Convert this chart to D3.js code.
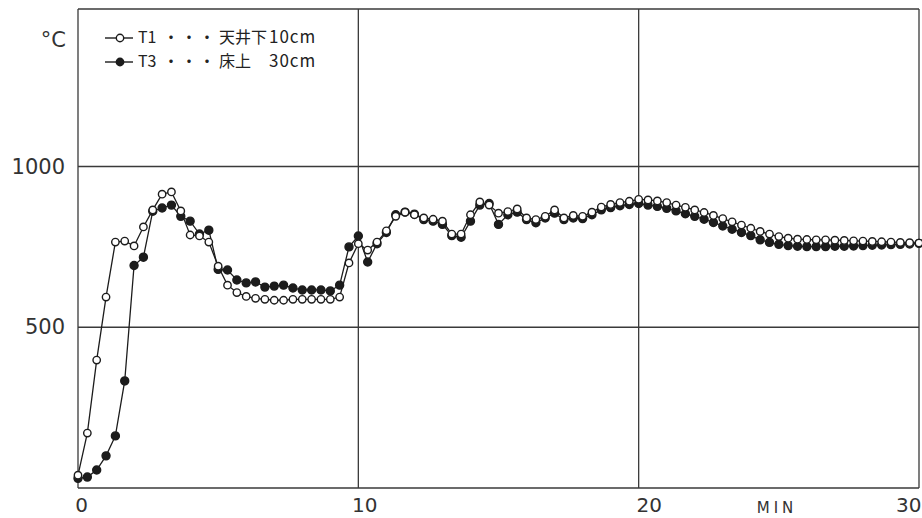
<!DOCTYPE html>
<html>
<head>
<meta charset="utf-8">
<script src="https://cdn.jsdelivr.net/npm/d3@7"></script>
<style>
  html, body { margin: 0; padding: 0; background: #fff; }
  svg { display: block; }
</style>
</head>
<body>
<div id="chart"></div>
<script>
// Sampling interval of the recorder, in minutes (one reading every 20 s).
const sampleStep = 1 / 3;

// T1: 10 cm below the ceiling (open circles), deg C
const t1Values = [
    40, 171, 398, 594, 765, 768, 753, 812, 865, 914,
    921, 862, 787, 784, 765, 690, 631, 608, 596, 590,
    587, 584, 584, 587, 587, 587, 587, 587, 594, 700,
    760, 740, 765, 800, 845, 858, 850, 840, 836, 830,
    790, 790, 850, 890, 880, 855, 860, 868, 840, 835,
    845, 865, 840, 848, 845, 858, 874, 882, 888, 892,
    898, 896, 893, 888, 880, 873, 865, 857, 848, 838,
    828, 818, 808, 798, 790, 782, 777, 774, 773, 772,
    772, 771, 770, 769, 768, 767, 766, 765, 764, 763,
    762
];

// T3: 30 cm above the floor (filled circles), deg C
const t3Values = [
    30, 34, 56, 100, 162, 333, 692, 718, 861, 871,
    880, 845, 830, 790, 802, 680, 678, 647, 638, 641,
    625, 628, 631, 622, 616, 616, 616, 613, 631, 750,
    784, 703, 760, 795, 850, 858, 852, 835, 830, 820,
    785, 780, 830, 880, 885, 820, 850, 858, 835, 825,
    840, 855, 835, 840, 838, 850, 865, 872, 878, 882,
    885, 880, 876, 870, 862, 853, 845, 836, 826, 815,
    805, 795, 785, 772, 764, 758, 754, 752, 751, 751,
    751, 752, 752, 753, 754, 755, 756, 757, 758, 759,
    761
];

const xTicks = [0, 10, 20, 30];
const yTicks = [500, 1000];
// legend pieces: name, description, distance text
const legendNames = ["T1", "T3"];
const legendPlaces = ["天井下", "床上"];
const legendDepths = ["10cm", "30cm"];

const width = 922;
const height = 518;
const ink = "#1c1c1c";

const xScale = d3.scaleLinear().domain([0, 30]).range([78, 919]);
const yScale = d3.scaleLinear().domain([0, 1490]).range([488, 9]);

const toPoints = values => values.map((v, i) => ({ t: i * sampleStep, v }));
const t1 = toPoints(t1Values);
const t3 = toPoints(t3Values);

const svg = d3.select("#chart").append("svg")
    .attr("width", width)
    .attr("height", height)
    .attr("viewBox", [0, 0, width, height]);

// Grid and frame
const grid = svg.append("g").attr("stroke", "#3a3a3a").attr("stroke-width", 1.3);
grid.selectAll(".vline")
  .data(xTicks)
  .join("line")
    .attr("x1", d => xScale(d)).attr("x2", d => xScale(d))
    .attr("y1", yScale(1490)).attr("y2", yScale(0));
grid.selectAll(".hline")
  .data([0, ...yTicks, 1490])
  .join("line")
    .attr("x1", xScale(0)).attr("x2", xScale(30))
    .attr("y1", d => yScale(d)).attr("y2", d => yScale(d));

const tickFont = "'DejaVu Sans', sans-serif";

// Horizontal axis labels
svg.append("g")
    .attr("transform", `translate(0,${yScale(0)})`)
    .call(d3.axisBottom(xScale).tickValues(xTicks).tickSize(0).tickPadding(10).tickFormat(d3.format("d")))
    .call(g => g.select(".domain").remove())
    .call(g => g.selectAll("text")
        .attr("font-family", tickFont)
        .attr("font-size", 20)
        .attr("fill", "#333")
        .attr("text-anchor", d => d === 30 ? "end" : "middle")
        .attr("dx", d => d === 30 ? 2 : d === 20 ? 10 : d === 0 ? 3 : 6));

svg.append("text")
    .attr("x", 777)
    .attr("y", 513)
    .attr("text-anchor", "middle")
    .attr("font-family", tickFont)
    .attr("font-size", 15)
    .attr("letter-spacing", 4)
    .attr("fill", "#333")
    .text("MIN");

// Vertical axis labels
svg.append("g")
    .attr("transform", `translate(${xScale(0)},0)`)
    .call(d3.axisLeft(yScale).tickValues(yTicks).tickSize(0).tickPadding(13).tickFormat(d3.format("d")))
    .call(g => g.select(".domain").remove())
    .call(g => g.selectAll("text")
        .attr("font-family", tickFont)
        .attr("font-size", 21)
        .attr("fill", "#333"));

svg.append("text")
    .attr("x", 66)
    .attr("y", 47)
    .attr("text-anchor", "end")
    .attr("font-family", tickFont)
    .attr("font-size", 21)
    .attr("fill", "#333")
    .text("°C");

// Series
const line = d3.line().x(d => xScale(d.t)).y(d => yScale(d.v));

function drawSeries(data, filled) {
    const g = svg.append("g");
    g.append("path")
        .datum(data)
        .attr("fill", "none")
        .attr("stroke", ink)
        .attr("stroke-width", 1.3)
        .attr("d", line);
    g.selectAll("circle")
      .data(data)
      .join("circle")
        .attr("cx", d => xScale(d.t))
        .attr("cy", d => yScale(d.v))
        .attr("r", filled ? 4 : 3.7)
        .attr("fill", filled ? ink : "#fff")
        .attr("stroke", ink)
        .attr("stroke-width", 1.4);
}

drawSeries(t3, true);
drawSeries(t1, false);

// Legend
const legend = svg.append("g")
  .selectAll("g")
  .data(legendNames)
  .join("g")
    .attr("transform", (d, i) => `translate(105,${38 + i * 24})`);
legend.append("line")
    .attr("x1", 0).attr("x2", 28)
    .attr("stroke", ink).attr("stroke-width", 1.4);
legend.append("circle")
    .attr("cx", 15).attr("r", 3.7)
    .attr("fill", (d, i) => i === 0 ? "#fff" : ink)
    .attr("stroke", ink).attr("stroke-width", 1.4);
const ltext = legend.append("text")
    .attr("y", 5)
    .attr("font-family", "'Noto Sans CJK JP', sans-serif")
    .attr("font-size", 16)
    .attr("fill", "#222");
ltext.append("tspan").attr("x", 33).text(d => d);
[58, 76, 94].forEach(x => ltext.append("tspan").attr("x", x).text("・"));
ltext.append("tspan").attr("x", 114).text((d, i) => legendPlaces[i]);
ltext.append("tspan").attr("x", 164).attr("font-size", 17).attr("letter-spacing", 1)
    .text((d, i) => legendDepths[i]);
</script>
</body>
</html>
